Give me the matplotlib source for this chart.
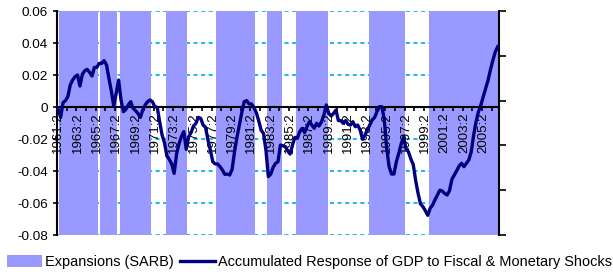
import numpy as np
import pandas as pd
import matplotlib
matplotlib.use("Agg")
import matplotlib.pyplot as plt
from matplotlib.patches import Patch
from matplotlib.lines import Line2D
from matplotlib.ticker import FixedLocator, FuncFormatter

plt.rcParams['font.family'] = ['Liberation Sans', 'DejaVu Sans']

# ---------------- data ----------------
start_quarter = "1961Q2"
response = [
    -0.0013, -0.0065, 0.0027, 0.0040, 0.0065, 0.0138, 0.0169, 0.0190, 0.0200, 0.0131,
    0.0204, 0.0227, 0.0235, 0.0217, 0.0194, 0.0248, 0.0248, 0.0273, 0.0273, 0.0290,
    0.0263, 0.0179, 0.0100, 0.0006, 0.0085, 0.0169, 0.0044, -0.0029, -0.0015, 0.0013,
    0.0033, -0.0008, -0.0023, -0.0040, -0.0065, -0.0019, 0.0013, 0.0033, 0.0044, 0.0033,
    0.0002, -0.0002, -0.0092, -0.0175, -0.0223, -0.0306, -0.0327, -0.0356, -0.0415, -0.0294,
    -0.0231, -0.0185, -0.0154, -0.0265, -0.0185, -0.0160, -0.0119, -0.0102, -0.0065, -0.0071,
    -0.0113, -0.0127, -0.0206, -0.0269, -0.0342, -0.0356, -0.0356, -0.0373, -0.0394, -0.0421,
    -0.0419, -0.0425, -0.0390, -0.0279, -0.0190, -0.0113, -0.0035, 0.0033, 0.0040, 0.0019,
    0.0019, -0.0002, -0.0035, -0.0085, -0.0144, -0.0165, -0.0269, -0.0435, -0.0419, -0.0377,
    -0.0352, -0.0342, -0.0238, -0.0242, -0.0248, -0.0273, -0.0294, -0.0238, -0.0190, -0.0196,
    -0.0154, -0.0133, -0.0160, -0.0123, -0.0092, -0.0113, -0.0133, -0.0102, -0.0119, -0.0092,
    -0.0050, 0.0013, -0.0040, -0.0056, -0.0040, -0.0019, -0.0085, -0.0085, -0.0102, -0.0085,
    -0.0108, -0.0113, -0.0092, -0.0123, -0.0113, -0.0144, -0.0202, -0.0175, -0.0144, -0.0113,
    -0.0081, -0.0065, -0.0029, 0.0002, 0.0002, -0.0077, -0.0258, -0.0373, -0.0419, -0.0419,
    -0.0342, -0.0290, -0.0230, -0.0190, -0.0260, -0.0280, -0.0325, -0.0360, -0.0460, -0.0540,
    -0.0606, -0.0623, -0.0648, -0.0677, -0.0633, -0.0613, -0.0580, -0.0550, -0.0520, -0.0525,
    -0.0540, -0.0550, -0.0523, -0.0452, -0.0425, -0.0398, -0.0369, -0.0352, -0.0373, -0.0352,
    -0.0331, -0.0280, -0.0176, -0.0092, -0.0029, 0.0013, 0.0065, 0.0117, 0.0169, 0.0235,
    0.0294, 0.0346, 0.0377,
]
# SARB expansion phases (first and last quarter shaded)
expansion_starts = ["1961Q3", "1965Q4", "1967Q4", "1972Q3", "1977Q4", "1983Q1", "1986Q1", "1993Q3", "1999Q4"]
expansion_ends   = ["1965Q2", "1967Q2", "1970Q4", "1974Q3", "1981Q3", "1984Q2", "1989Q1", "1997Q1", "2006Q4"]

y_ticks = [-0.08, -0.06, -0.04, -0.02, 0.0, 0.02, 0.04, 0.06]
label_every = 8
tickmark_every = 4

legend_labels = ["Expansions (SARB)",
                 "Accumulated Response of GDP to Fiscal & Monetary Shocks"]

# ---------------- derived ----------------
quarters = pd.period_range(start_quarter, periods=len(response), freq="Q")
flags = np.zeros(len(quarters))
for s, e in zip(expansion_starts, expansion_ends):
    mask = (quarters >= pd.Period(s, "Q")) & (quarters <= pd.Period(e, "Q"))
    flags[mask] = 1.0
cat_labels = [f"{q.year}:{q.quarter}" for q in quarters]
x = np.arange(len(quarters))

BAR = "#9999FF"
LINE = "#000080"
GRID = "#22B4EC"

fig = plt.figure(figsize=(6.13, 2.74), dpi=100)
rect = [57 / 613, 1 - 235 / 274, 442 / 613, 224 / 274]
ax = fig.add_axes(rect)
ax.set_xlim(-0.5, len(x) - 0.5)
ax.set_ylim(-0.08, 0.06)
ax.set_yticks(y_ticks)
ax.yaxis.set_major_formatter(FuncFormatter(lambda v, p: "0" if abs(v) < 1e-9 else f"{v:.2f}"))
ax.tick_params(axis="y", direction="out", length=3, width=1.2, labelsize=9.7, pad=3.5)
ax.tick_params(axis="x", which="both", bottom=False, labelbottom=False)
for s in ["top", "right", "bottom"]:
    ax.spines[s].set_visible(False)
ax.spines["left"].set_linewidth(1.5)
ax.set_axisbelow(True)
ax.yaxis.grid(True, color=GRID, linewidth=1.4, linestyle=(0, (2.1, 1.8)))

# bars on secondary axis
axb = ax.twinx()
axb.set_ylim(0, 1)
axb.set_yticks([0, 0.2, 0.4, 0.6, 0.8, 1.0])
axb.tick_params(axis="y", direction="out", length=5, width=1.2, labelright=False)
for s in ["top", "left", "bottom"]:
    axb.spines[s].set_visible(False)
axb.spines["right"].set_linewidth(1.5)
axb.bar(x, flags, width=1.0, color=BAR, linewidth=0, antialiased=False, zorder=1)

# line axis on top
axl = ax.twinx()
axl.set_ylim(-0.08, 0.06)
axl.yaxis.set_visible(False)
axl.xaxis.set_visible(True)
for s in ["top", "left", "right"]:
    axl.spines[s].set_visible(False)
axl.spines["bottom"].set_position(("data", 0))
axl.spines["bottom"].set_linewidth(1.5)
axl.plot(x, response, color=LINE, linewidth=2.4, solid_joinstyle="round", zorder=3)

axl.xaxis.set_major_locator(FixedLocator(x[::label_every]))
axl.set_xticklabels(cat_labels[::label_every])
axl.xaxis.set_minor_locator(FixedLocator(np.arange(-0.5 + tickmark_every, len(x), tickmark_every)))
axl.tick_params(axis="x", which="major", length=0, labelsize=9.5, labelrotation=90, pad=4)
axl.tick_params(axis="x", which="minor", direction="out", length=3, width=1.2)
for t in axl.get_xticklabels():
    t.set_verticalalignment("top")
ax.set_xlim(-0.5, len(x) - 0.5)

handles = [Patch(facecolor=BAR, edgecolor="none"),
           Line2D([0], [0], color=LINE, linewidth=2.4)]
fig.legend(handles, legend_labels, loc="center left",
           bbox_to_anchor=(7 / 613, 1 - 262 / 274), ncol=2, frameon=False,
           fontsize=10.45, handlelength=2.4, handleheight=0.85, handletextpad=0.2,
           columnspacing=0.45, borderpad=0, borderaxespad=0)

fig.savefig("out.png", dpi=100)
